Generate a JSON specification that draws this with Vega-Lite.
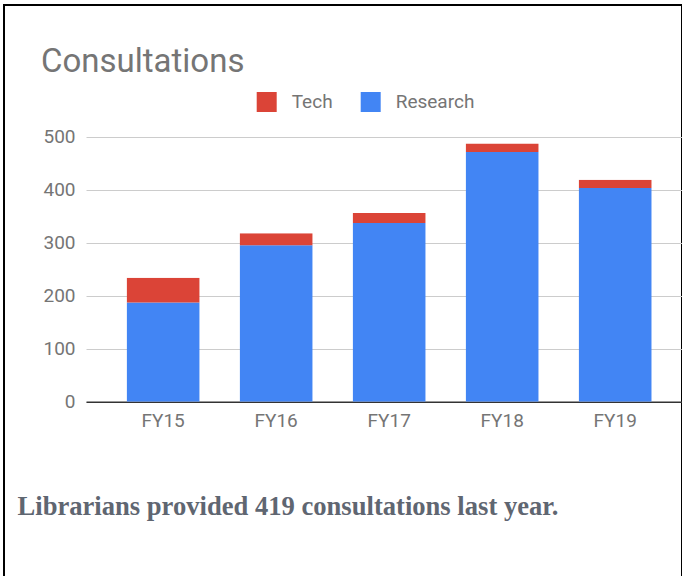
{
  "$schema": "https://vega.github.io/schema/vega-lite/v6.json",
  "autosize": "none",
  "width": 678,
  "height": 574,
  "padding": {"left": 4, "top": 5, "right": 0, "bottom": 0},
  "background": "white",
  "config": {
    "view": {"stroke": "black", "strokeWidth": 2, "fill": "white"},
    "font": "Roboto"
  },
  "title": {
    "text": "Consultations",
    "anchor": "start",
    "frame": "group",
    "orient": "top",
    "offset": -100,
    "baseline": "alphabetic",
    "font": "Roboto",
    "fontSize": 33,
    "fontWeight": "normal",
    "color": "#757575",
    "dx": 37
  },
  "data": {
    "values": [
      {"year": "FY15", "series": "Research", "count": 187},
      {"year": "FY15", "series": "Tech", "count": 47},
      {"year": "FY16", "series": "Research", "count": 295},
      {"year": "FY16", "series": "Tech", "count": 23},
      {"year": "FY17", "series": "Research", "count": 337},
      {"year": "FY17", "series": "Tech", "count": 19},
      {"year": "FY18", "series": "Research", "count": 471},
      {"year": "FY18", "series": "Tech", "count": 16},
      {"year": "FY19", "series": "Research", "count": 403},
      {"year": "FY19", "series": "Tech", "count": 16}
    ]
  },
  "mark": {
    "type": "bar",
    "cornerRadiusTopLeft": {"expr": "datum.series === 'Tech' ? 3 : 0"},
    "cornerRadiusTopRight": {"expr": "datum.series === 'Tech' ? 3 : 0"}
  },
  "encoding": {
    "x": {
      "field": "year",
      "type": "nominal",
      "scale": {"range": [82, 678], "paddingInner": 0.354, "paddingOuter": 0.314, "align": 0.573},
      "axis": {
        "orient": "bottom",
        "offset": -177.3,
        "labelAngle": 0,
        "labelFont": "Roboto",
        "labelFontSize": 19,
        "labelColor": "#757575",
        "labelPadding": 10,
        "ticks": false,
        "tickSize": 0,
        "domainColor": "#333333",
        "domainWidth": 1.5,
        "grid": false,
        "title": "Librarians provided 419 consultations last year.",
        "titleFont": "Liberation Serif",
        "titleFontSize": 26.6,
        "titleFontWeight": "bold",
        "titleColor": "#5f6671",
        "titleAnchor": "start",
        "titleAlign": "left",
        "titleBaseline": "alphabetic",
        "titleX": 13,
        "titleY": 113
      }
    },
    "y": {
      "field": "count",
      "type": "quantitative",
      "stack": "zero",
      "scale": {"domain": [0, 500], "range": [396.7, 131.7], "nice": false, "zero": true},
      "axis": {
        "orient": "left",
        "offset": -82,
        "values": [0, 100, 200, 300, 400, 500],
        "domain": false,
        "ticks": false,
        "tickSize": 0,
        "labelPadding": 11,
        "labelFont": "Roboto",
        "labelFontSize": 19,
        "labelColor": "#757575",
        "gridColor": "#cccccc",
        "gridWidth": 1,
        "title": null
      }
    },
    "color": {
      "field": "series",
      "type": "nominal",
      "scale": {"domain": ["Tech", "Research"], "range": ["#db4437", "#4285f4"]},
      "legend": {
        "orient": "none",
        "direction": "horizontal",
        "legendX": 252.7,
        "legendY": 87,
        "title": null,
        "symbolType": "square",
        "symbolSize": 400,
        "symbolStrokeWidth": 0,
        "symbolOpacity": 1,
        "labelFont": "Roboto",
        "labelFontSize": 19,
        "labelColor": "#757575",
        "labelOffset": 15,
        "columnPadding": 28,
        "padding": 0
      }
    },
    "order": {"field": "series", "sort": "ascending"}
  }
}
